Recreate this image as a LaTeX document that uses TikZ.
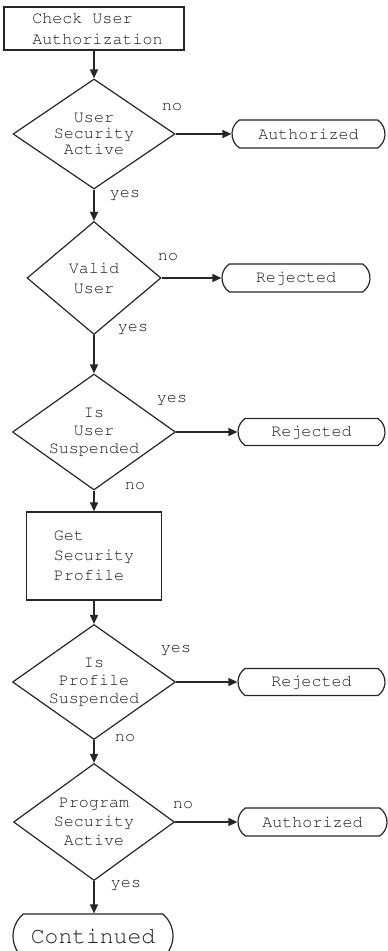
\documentclass[tikz,border=0pt]{standalone}
\usepackage[T1,TU]{fontenc}
\usetikzlibrary{arrows.meta, positioning, shapes.geometric, shapes.misc}

\newcommand{\crfont}[2]{\fontencoding{T1}\fontfamily{pcr}\fontsize{#1}{#2}\selectfont}
\tikzset{
  process/.style={draw, line width=1.3pt, align=left, inner sep=0pt, font=\crfont{16.7}{20}},
  decision/.style={draw, diamond, aspect=1.4, inner sep=0pt, align=center, line width=1.2pt,
    minimum width=163pt, minimum height=116pt, font=\crfont{16.7}{18}},
  terminal/.style={draw, rounded rectangle, rounded rectangle arc length=110, line width=1.2pt,
    minimum width=148pt, minimum height=28pt, inner sep=0pt, font=\crfont{16.7}{18}},
  flow/.style={-{Triangle[length=9pt,width=8pt]}, line width=1.3pt},
  lbl/.style={font=\crfont{16.7}{18}},
}

\begin{document}
\begin{tikzpicture}[x=1pt, y=-1pt, every node/.style={text=black!90}, draw=black!85]
\useasboundingbox (0,0) rectangle (388,951);
\node[process, minimum width=180pt, minimum height=43pt, font=\crfont{16.7}{21}] (chk) at (94,28.5) {\hspace*{7pt}Check User\\\hspace*{7pt}Authorization};
\node[decision, minimum width=162pt, minimum height=110pt, font=\crfont{16.7}{16}] (usec) at (94,134) {User\\Security\\Active};
\node[terminal, minimum width=153pt] (auth1) at (308.5,134) {Authorized};
\node[decision, minimum width=134pt, minimum height=113pt, font=\crfont{16.7}{20}] (valid) at (94,278) {Valid\\User};
\node[terminal] (rej1) at (296,278) {Rejected};
\node[decision] (usus) at (94,432) {Is\\User\\Suspended};
\node[terminal, minimum width=147pt, minimum height=27pt] (rej2) at (311.5,432) {Rejected};
\node[process, minimum width=135pt, minimum height=88pt] (prof) at (94,556) {Get\\Security\\Profile};
\node[decision, minimum height=115pt] (psus) at (94,682) {Is\\Profile\\Suspended};
\node[terminal, minimum width=147pt, minimum height=27pt] (rej3) at (311.5,682) {Rejected};
\node[decision, minimum width=161pt, minimum height=117pt, font=\crfont{16.7}{19}] (pgm) at (94,822) {Program\\Security\\Active};
\node[terminal, minimum width=149pt] (auth2) at (312.5,822) {Authorized};
\node[terminal, minimum width=160pt, minimum height=44pt, rounded rectangle arc length=100, font=\crfont{23}{24}] (cont) at (93,936) {Continued};
% branch labels
\node[lbl] (n1) at (172,107) {no};
\node[lbl] (y1) at (125,195) {yes};
\node[lbl] (n2) at (168,257) {no};
\node[lbl] (y2) at (133,329) {yes};
\node[lbl] (y3) at (172,400) {yes};
\node[lbl] (n3) at (135,486) {no};
\node[lbl] (y4) at (176,650) {yes};
\node[lbl] (n4) at (125,738) {no};
\node[lbl] (n5) at (183,805) {no};
\node[lbl] (y5) at (126,885) {yes};
\draw[flow] (chk) -- (usec);
\draw[flow] (usec) -- (auth1);
\draw[flow] (usec) -- (valid);
\draw[flow] (valid) -- (rej1);
\draw[flow] (valid) -- (usus);
\draw[flow] (usus) -- (rej2);
\draw[flow] (usus) -- (prof);
\draw[flow] (prof) -- (psus);
\draw[flow] (psus) -- (rej3);
\draw[flow] (psus) -- (pgm);
\draw[flow] (pgm) -- (auth2);
\draw[flow] (pgm.south) -- (pgm.south |- cont.north);
\end{tikzpicture}
\end{document}
